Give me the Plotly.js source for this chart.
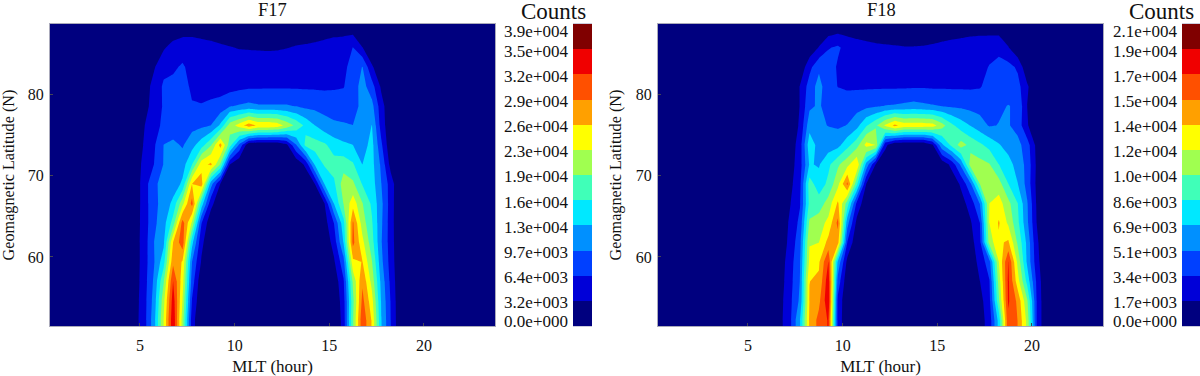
<!DOCTYPE html>
<html><head><meta charset="utf-8">
<script src="https://cdn.plot.ly/plotly-3.0.1.min.js"></script>
<style>html,body{margin:0;padding:0;background:#fff;overflow:hidden}</style>
</head><body><div id="chart" style="width:1200px;height:376px"></div>
<script>
const lat = [51.5,52.2,54.6,57.0,59.4,61.8,64.2,66.6,69.0,71.4,73.8,76.2,78.6,81.0,83.4,85.8,88.2,88.7];
const mltF17 = [0.25,4.25,4.75,5.25,5.75,6.25,6.75,7.25,7.75,8.25,8.75,9.25,9.75,10.25,10.75,11.25,11.75,12.25,12.75,13.25,13.75,14.25,14.75,15.25,15.75,16.25,16.75,17.25,17.75,18.25,18.75,23.75];
const mltF18 = [0.25,6.25,6.75,7.25,7.75,8.25,8.75,9.25,9.75,10.25,10.75,11.25,11.75,12.25,12.75,13.25,13.75,14.25,14.75,15.25,15.75,16.25,16.75,17.25,17.75,18.25,18.75,19.25,19.75,20.25,20.75,23.75];
// counts in thousands; rows bottom (low latitude) to top
const f17Counts = [
[0,0,2,5.4,11.7,22.6,35,21,4.7,0,0,0,0,0,0,0,0,0,0,0,0,0,0,0,4.5,19,31.5,25.5,13,6.4,0.5,0],
[0,0,2,5.4,11.7,22.6,35,21,4.7,0,0,0,0,0,0,0,0,0,0,0,0,0,0,0,4.5,19,31.5,25.5,13,6.4,0.5,0],
[0,0,1.8,5.4,11,21.5,34,22.5,6.3,0.3,0,0,0,0,0,0,0,0,0,0,0,0,0,0.3,5,18.5,30,23.8,12.5,6.2,0.4,0],
[0,0,1.6,5.2,10.3,19,32.3,24,8.2,0.7,0,0,0,0,0,0,0,0,0,0,0,0,0,1,6,20,28.5,21.5,11.8,5.6,0.3,0],
[0,0,1.5,5.1,9.5,14.8,28.3,25.5,9.7,2.9,0,0,0,0,0,0,0,0,0,0,0,0,0,2.8,8.5,25,25.9,19.5,10.5,5,0.2,0],
[0,0,1.6,5,9.7,12.2,25.8,31,14,4,0.5,0,0,0,0,0,0,0,0,0,0,0,0.8,4.5,13,30,23.5,17.5,9.9,4.8,0.1,0],
[0,0,1.5,4.9,9,11.5,17.5,30.5,22,6.6,0.8,0,0,0,0,0,0,0,0,0,0,0,1.8,6.5,15,29.5,21,16.5,10.2,4.7,0,0],
[0,0,1.4,4.9,9,10.6,13.8,21.5,30.2,14.8,4.4,0.2,0,0,0,0,0,0,0,0,0,0.5,3.2,13,19.4,24.5,19.5,15.5,10.5,4.8,0,0],
[0,0,1.4,4.9,9.2,10.5,11,13.5,25.8,27.5,11,3.1,0.3,0,0,0,0,0,0,0,0,3.3,13,15.5,21,20,15.9,14.5,9.7,4.9,0,0],
[0,0,1.3,4.4,6.5,9.8,10,11.5,16,24.5,26.5,19,3.2,0.3,0,0,0,0,0,0.5,4,13.5,16.5,17.5,18,16.5,12.9,14,9,2,0,0],
[0,0,1.2,3.6,6,9.7,10.5,9.3,11.8,14.7,19,27,17.5,9,0.5,0,0,0.2,2.5,9.5,17,17.5,16.7,14.5,13.5,12.9,11.5,14,7,0.5,0,0],
[0,0,0.5,3.2,5.5,7,7.5,8.5,8.6,9,9.7,13.5,21,24,27.5,25.2,25.2,24.5,21.5,18.5,15.3,12.9,11,10.3,10,9.7,10.3,13,5,0.6,0,0],
[0,0,0.2,2.2,4.5,6.8,7.5,7.4,6.6,6.6,7,7.6,9.4,10,10.5,10,10,10,10,9.5,8.8,8.7,8.5,8,8,8.5,10.5,10.7,4.5,0.5,0,0],
[0,0,0,1.5,4.5,6.9,7.2,7.2,6.1,5.5,5.4,5.2,5.2,5.6,5.9,6,6.05,6.05,6.05,6.05,6.05,6,5.9,6.1,6.3,8,11,7.8,2.6,0,0,0],
[0,0,0,0.3,2.9,5.6,6,6.8,5.5,5.4,5.5,5.5,5.5,5.5,5.6,5.6,5.6,5.6,5.6,5.6,5.6,5.6,5.6,5.7,5.8,7.5,9.8,3.7,0.5,0,0,0],
[0,0,0,0,0.5,2.8,4.5,5.2,5,4.6,4.3,3.8,3.4,3,2.9,2.8,2.7,2.8,3.1,3.5,3.7,4,4.4,4.8,5,6.5,3.3,0.5,0,0,0,0],
[0,0,0,0,0,0.2,0.8,1.5,1.7,1.5,1.2,0.9,0.6,0.4,0.3,0.3,0.3,0.3,0.5,0.8,1,1.2,1.5,1.8,1.9,1.5,0.3,0,0,0,0,0],
[0,0,0,0,0,0,0,0,0,0,0,0,0,0,0,0,0,0,0,0,0,0,0,0,0,0,0,0,0,0,0,0]
];
const f18Counts = [
[0,0,1.4,3.2,6.8,14,16,17.3,3,0,0,0,0,0,0,0,0,0,0,0,0,0,0,1,2.4,7.5,16.8,15.4,11.5,3.4,0,0],
[0,0,1.4,3.2,6.8,14,16,17.3,3,0,0,0,0,0,0,0,0,0,0,0,0,0,0,1,2.4,7.5,16.8,15.4,11.5,3.4,0,0],
[0,0,1.3,3.1,5.5,13.8,15,18.5,3,0.2,0,0,0,0,0,0,0,0,0,0,0,0,0,1.1,2.9,10,17.4,15,10.5,3.4,0,0],
[0,0,1.1,2.9,5.2,13.7,14,18.3,4.5,0.4,0,0,0,0,0,0,0,0,0,0,0,0,0,1.7,3.3,11,17.5,12.7,8,3.1,0,0],
[0,0,1,2.7,5.1,12.4,13.5,17.2,6.5,1.2,0,0,0,0,0,0,0,0,0,0,0,0,0.8,2.2,4.5,12,17.2,11.5,6.5,2.4,0,0],
[0,0,0.7,2.3,4.6,11.9,12,14.3,14.5,3.4,0.3,0,0,0,0,0,0,0,0,0,0,0,1,2.9,11,13.4,14,10,6.4,2.1,0,0],
[0,0,0.5,2.1,3.9,10.6,11.2,12.5,15.9,5.8,1.2,0,0,0,0,0,0,0,0,0,0,0,1.5,3.4,12,13.9,11.7,9,5.5,1.7,0,0],
[0,0,0.2,1.7,3.3,9,9.4,11,14,9.5,3,0.4,0,0,0,0,0,0,0,0,0,1,2.4,5.2,12,12.8,10.8,8.6,5.3,1.5,0,0],
[0,0,0,1.3,3,9.4,7.6,9,11.5,15.8,9,1.7,0.2,0,0,0,0,0,0,0,0.4,2,4.8,10.3,11.3,11,8.6,6.9,4.5,1.3,0,0],
[0,0,0,1,2.7,7,6.7,8.2,10,11.5,13.6,6.3,1.6,0.2,0,0,0,0,0,0.5,2.2,5.5,11,10.9,10.4,8.6,7.5,6.2,4.6,1.4,0,0],
[0,0,0,0.7,2.6,7.9,6.2,6,6.3,8,9.6,12.6,12,2.2,0.2,0,0,0,1.5,6.5,9,11,9.8,8.9,8,7,6.2,5.7,4.2,1.2,0,0],
[0,0,0,0.4,2,6.2,5.4,5.1,4.9,5.2,6.3,8.4,10,12.3,14.2,13,13,13,12.8,11,9,7.7,6.8,5.9,5,5.2,5.3,4.5,1.9,0.2,0,0],
[0,0,0,0,1.8,4.8,5.4,4.3,4.3,4.3,4.5,4.7,4.95,5.2,5.3,5.5,5.7,5.5,5.3,5.1,4.9,4.8,4.6,4.5,4.6,4.9,5.2,4.9,1.7,0.2,0,0],
[0,0,0,0.2,1.8,4.2,5.8,4,3.4,3.2,3.2,3.2,3.2,3.2,3.2,3.2,3.25,3.25,3.2,3.2,3.2,3.2,3.2,3.3,4,4.2,4.3,4,2,0,0,0],
[0,0,0,0,0.4,2.9,4.8,4.4,3.2,2.6,2.6,2.6,2.6,2.6,2.6,2.6,2.6,2.6,2.6,2.6,2.6,2.6,2.7,3,3.5,3.9,4,3.15,0.3,0,0,0],
[0,0,0,0,0,0.5,1.8,3.3,3.7,2.8,2.5,2.3,2.1,2,1.9,1.8,1.8,1.85,2,2.2,2.4,2.5,2.7,2.8,2.9,3,1.8,0.2,0,0,0,0],
[0,0,0,0,0,0,0,0.6,0.9,0.9,0.7,0.5,0.4,0.35,0.3,0.3,0.3,0.35,0.45,0.6,0.7,0.85,0.95,1,1,0.9,0.5,0,0,0,0,0],
[0,0,0,0,0,0,0,0,0,0,0,0,0,0,0,0,0,0,0,0,0,0,0,0,0,0,0,0,0,0,0,0]
];
const bandColors = ['#00007f','#0000d8','#0040ff','#0090ff','#00e8ff','#40ffb8','#a0ff50','#ffff00','#ffa000','#ff5000','#f00000','#800000'];
const f17Labels = ['0.0e+000','3.2e+003','6.4e+003','9.7e+003','1.3e+004','1.6e+004','1.9e+004','2.3e+004','2.6e+004','2.9e+004','3.2e+004','3.5e+004','3.9e+004'];
const f18Labels = ['0.0e+000','1.7e+003','3.4e+003','5.1e+003','6.9e+003','8.6e+003','1.0e+004','1.2e+004','1.4e+004','1.5e+004','1.7e+004','1.9e+004','2.1e+004'];
const barTicks = [0.21,0.94,1.94,2.93,3.93,4.94,5.94,6.94,7.94,8.95,9.95,10.91,11.71];
const bandIndex = [0,1,2,3,4,5,6,7,8,9,10,11];
const f17Step = 3.225, f18Step = 1.715;
const W = 1200, H = 376;
const scale = bandColors.map((c,i)=>[i/11,c]);
const serif = '"Liberation Serif","Times New Roman",serif';
const tf = {family:serif,size:16,color:'#111'};

function contour(x,z,step,xa,ya){
  return {type:'contour',x:x,y:lat,z:z,xaxis:xa,yaxis:ya,colorscale:scale,showscale:false,zauto:false,zmin:0,zmax:step*12,
    autocontour:false,contours:{start:step,end:step*11,size:step,coloring:'fill',showlines:false},line:{width:0,smoothing:0},hoverinfo:'x+y+z'};
}
function bar(xa,ya){
  return {type:'heatmap',x:[0],y:bandIndex.map(i=>i+0.5),z:bandIndex.map(i=>[i]),xaxis:xa,yaxis:ya,colorscale:scale,zmin:0,zmax:11,showscale:false,hoverinfo:'skip'};
}
const traces = [contour(mltF17,f17Counts,f17Step,'x','y'),contour(mltF18,f18Counts,f18Step,'x2','y2'),bar('x3','y3'),bar('x4','y4')];
const yDom = [(H-326)/H,(H-24)/H];
const xMain = d=>({domain:d,range:[0.25,23.75],tickvals:[5,10,15,20],ticks:'inside',ticklen:3,tickcolor:'#445',tickwidth:1,tickfont:tf,ticklabelstandoff:5,showgrid:false,zeroline:false,showline:true,linecolor:'#aab',linewidth:1,mirror:true,
  title:{text:'MLT (hour)',font:{family:serif,size:17,color:'#111'},standoff:10}});
const yMain = (d,anch)=>({domain:d,anchor:anch,range:[51.5,88.7],tickvals:[60,70,80],ticks:'inside',ticklen:3,tickcolor:'#445',tickwidth:1,tickfont:tf,ticklabelstandoff:2,showgrid:false,zeroline:false,showline:true,linecolor:'#aab',linewidth:1,mirror:true,
  title:{text:'Geomagnetic Latitude (N)',font:{family:serif,size:16.2,color:'#111'},standoff:10}});
const xBar = (d,anch)=>({domain:d,anchor:anch,range:[-0.5,0.5],showticklabels:false,ticks:'',showgrid:false,zeroline:false,showline:true,linecolor:'#ccd',linewidth:1,mirror:true});
const yBar = (d,anch,lab)=>({domain:d,anchor:anch,range:[0,12],tickvals:barTicks,ticktext:lab,ticks:'',tickfont:{family:serif,size:17,color:'#111'},showgrid:false,zeroline:false,showline:false,ticklabelstandoff:4});
const note = (t,x,y,size)=>({text:t,xref:'paper',yref:'paper',x:x/W,y:1-y/H,xanchor:'center',yanchor:'middle',showarrow:false,font:{family:serif,size:size,color:'#111'}});
const layout = {width:W,height:H,margin:{l:0,r:0,t:0,b:0},paper_bgcolor:'#fff',plot_bgcolor:'#00007f',showlegend:false,
  xaxis:Object.assign(xMain([50/W,495/W]),{anchor:'y'}),
  yaxis:yMain(yDom,'x'),
  xaxis2:Object.assign(xMain([658/W,1103/W]),{anchor:'y2'}),
  yaxis2:yMain(yDom,'x2'),
  xaxis3:xBar([573/W,592/W],'y3'),
  yaxis3:yBar(yDom,'x3',f17Labels),
  xaxis4:xBar([1182/W,1200/W],'y4'),
  yaxis4:yBar(yDom,'x4',f18Labels),
  annotations:[note('F17',272,10,18.5),note('F18',881,10,18.5),note('Counts',553,12,23),note('Counts',1161,12,23)]};
Plotly.newPlot('chart',traces,layout,{displayModeBar:false,responsive:false});
</script></body></html>
